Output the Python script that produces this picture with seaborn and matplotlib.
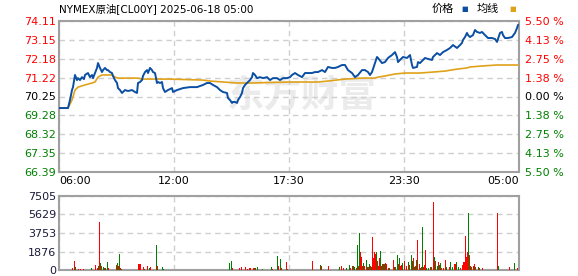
import matplotlib
matplotlib.use("Agg")
import matplotlib.pyplot as plt
import seaborn as sns
import pandas as pd

# ---------------- data ----------------
title = "NYMEX原油[CL00Y] 2025-06-18 05:00"
time_labels = ["06:00", "12:00", "17:30", "23:30", "05:00"]
time_slots = [0, 115, 230, 345, 460]

price_ticks = [66.39, 67.35, 68.32, 69.28, 70.25, 71.22, 72.18, 73.15, 74.11]
price_labels = ["66.39", "67.35", "68.32", "69.28", "70.25", "71.22", "72.18", "73.15", "74.11"]
pct_labels = ["5.50 %", "4.13 %", "2.75 %", "1.38 %", "0.00 %", "1.38 %", "2.75 %", "4.13 %", "5.50 %"]
vol_ticks = [0, 1876, 3753, 5629, 7505]

price_slot = [0, 4, 9, 11, 13, 14, 16, 18, 19, 21, 23, 25, 26, 29, 31, 33, 34, 36, 38, 39,
              41, 43, 44, 46, 48, 49, 51, 53, 54, 56, 58, 59, 61, 63, 64, 66, 69, 73, 76, 78,
              79, 81, 83, 84, 86, 88, 89, 91, 93, 94, 96, 98, 99, 101, 103, 104, 106, 109, 113, 114,
              118, 124, 131, 138, 144, 148, 151, 154, 158, 161, 164, 168, 169, 171, 173, 174, 176, 178, 179, 181,
              183, 184, 186, 188, 191, 193, 194, 196, 198, 201, 204, 208, 211, 214, 218, 221, 224, 228, 231, 233,
              236, 239, 243, 246, 249, 253, 256, 259, 263, 266, 269, 273, 276, 279, 283, 286, 289, 293, 296, 299,
              303, 306, 309, 311, 313, 316, 318, 319, 323, 326, 329, 333, 336, 338, 339, 341, 343, 344, 348, 351,
              353, 354, 358, 359, 361, 364, 366, 369, 373, 374, 378, 381, 384, 388, 391, 394, 398, 401, 403, 404,
              406, 408, 409, 411, 414, 416, 418, 421, 423, 426, 429, 433, 436, 438, 441, 443, 444, 446, 449, 453,
              456, 458, 459]
price = [69.66, 69.66, 69.66, 70.07, 70.58, 70.73, 71.35, 71.09, 71.19, 71.09, 71.24, 71.14, 71.35, 71.45, 71.24, 71.35, 71.19, 71.45, 71.71, 71.96,
         71.71, 71.50, 71.60, 71.71, 71.60, 71.60, 71.50, 71.45, 71.30, 71.09, 70.94, 70.68, 70.58, 70.43, 70.48, 70.58, 70.53, 70.58, 70.48, 70.43,
         70.94, 70.99, 71.09, 71.30, 71.50, 71.60, 71.45, 71.71, 71.60, 71.50, 71.45, 70.94, 70.99, 70.94, 70.99, 70.68, 70.48, 70.58, 70.68, 70.48,
         70.58, 70.68, 70.73, 70.73, 70.84, 70.94, 70.94, 70.84, 70.73, 70.58, 70.48, 70.43, 70.17, 70.07, 69.92, 69.97, 69.97, 69.92, 70.07, 70.22,
         70.43, 70.68, 70.84, 70.94, 71.09, 71.24, 71.45, 71.35, 71.19, 71.24, 71.19, 71.24, 71.09, 71.19, 71.19, 71.09, 71.19, 71.19, 71.24, 71.35,
         71.45, 71.35, 71.24, 71.45, 71.45, 71.45, 71.50, 71.50, 71.60, 71.50, 71.76, 71.71, 71.71, 71.76, 71.86, 71.86, 71.60, 71.45, 71.24, 71.35,
         71.60, 71.60, 71.50, 71.35, 71.50, 71.96, 72.27, 72.22, 71.96, 72.01, 72.22, 72.37, 72.52, 72.27, 72.01, 72.12, 72.22, 72.27, 72.22, 72.37,
         71.86, 71.71, 71.76, 72.01, 71.96, 72.12, 72.22, 72.17, 72.12, 72.27, 72.47, 72.37, 72.52, 72.63, 72.73, 72.88, 72.73, 72.88, 72.99, 73.14,
         73.29, 73.50, 73.39, 73.29, 73.39, 73.65, 73.55, 73.50, 73.55, 73.39, 73.24, 73.24, 73.19, 73.04, 73.50, 73.55, 73.39, 73.24, 73.24, 73.29,
         73.50, 73.75, 73.91]

avg_slot = [0, 9, 13, 16, 19, 26, 33, 36, 39, 43, 53, 56, 59, 79, 83, 111, 144, 151, 178, 191,
            231, 259, 269, 286, 303, 316, 319, 326, 336, 346, 361, 374, 386, 398, 408, 411, 423, 438, 460]
avg_price = [69.66, 69.66, 70.07, 70.58, 70.73, 70.84, 70.94, 70.99, 71.24, 71.35, 71.35, 71.24, 71.19, 71.19, 71.14, 71.14, 71.09, 71.04, 70.94, 70.94,
             70.99, 70.99, 71.04, 71.14, 71.19, 71.19, 71.24, 71.30, 71.40, 71.45, 71.45, 71.50, 71.55, 71.65, 71.71, 71.76, 71.81, 71.86, 71.86]

vol_slot = [13, 15, 16, 19, 21, 24, 32, 36, 38, 39, 40, 41, 42, 44, 45, 46, 48, 49, 57, 58,
            59, 60, 61, 62, 79, 80, 81, 84, 85, 88, 90, 91, 97, 98, 103, 104, 170, 172, 173, 180,
            182, 186, 188, 190, 191, 194, 195, 196, 198, 203, 212, 213, 218, 219, 221, 222, 227, 228,
            253, 261, 262, 269, 280, 282, 284, 287, 290, 291, 293, 294, 295, 297, 298, 299, 300, 301, 302, 303,
            304, 305, 307, 308, 309, 310, 311, 312, 313, 314, 315, 316, 317, 318, 319, 320, 321, 322, 323, 324,
            325, 326, 327, 329, 330, 334, 335, 336, 338, 339, 340, 341, 342, 343,
            345, 347, 349, 350, 352, 353, 354, 355, 356, 357, 358, 360, 361, 362, 363, 364, 365, 366, 367, 369,
            371, 372, 374, 375, 376, 378, 379, 380, 381, 382, 384, 386, 387, 390, 391, 393, 395, 396, 397, 399,
            401, 403, 404, 405, 406, 407, 408, 409, 410, 411, 412, 414, 415, 416, 419, 420, 423, 438, 439, 450,
            455, 458]
vol_value = [240, 910, 300, 135, 135, 135, 240, 500, 240, 400, 4900, 740, 400, 330, 240, 240, 810, 240, 500, 740,
             400, 1650, 240, 135, 600, 600, 600, 300, 135, 400, 240, 300, 2530, 400, 300, 135, 740, 910, 240, 240,
             300, 300, 135, 240, 240, 240, 170, 240, 300, 135, 300, 135, 1420, 400, 1150, 240, 810, 135,
             950, 540, 440, 440, 270, 440, 170, 170, 540, 170, 440, 370, 270, 170, 2570, 370, 3720, 1790, 1290, 440,
             680, 440, 1050, 270, 270, 600, 440, 340, 3310, 1180, 1860, 1620, 1860, 950, 440, 1180, 1960, 440, 600, 600,
             600, 680, 600, 170, 170, 1050, 270, 340, 1560, 600, 1180, 440, 500, 680,
             950, 370, 770, 500, 1520, 950, 1180, 270, 440, 1010, 3080, 600, 170, 340, 4400, 270, 500, 2060, 170, 170,
             340, 270, 6860, 1290, 950, 440, 770, 500, 680, 170, 170, 1050, 340, 340, 850, 340, 600, 600, 850, 340,
             170, 540, 770, 770, 3480, 1350, 1860, 5780, 1520, 440, 270, 370, 600, 270, 340, 170, 170, 5780, 440, 270,
             680, 170]
vol_dir = ["r", "r", "g", "r", "r", "r", "g", "r", "r", "g", "r", "g", "r", "g", "r", "g", "g", "r", "r", "g",
           "r", "g", "r", "g", "r", "r", "r", "r", "g", "r", "g", "r", "g", "r", "g", "g", "g", "g", "r", "r",
           "r", "r", "r", "r", "r", "r", "g", "r", "g", "g", "g", "r", "g", "r", "g", "r", "r", "g",
           "r", "g", "r", "r", "g", "r", "r", "g", "g", "r", "g", "r", "g", "r", "g", "r", "g", "r", "r", "r",
           "g", "r", "g", "r", "r", "g", "r", "g", "r", "r", "r", "r", "g", "r", "r", "r", "g", "r", "g", "r",
           "g", "r", "r", "g", "r", "r", "g", "r", "g", "r", "g", "r", "r", "g",
           "r", "r", "g", "r", "g", "g", "r", "g", "r", "g", "r", "r", "r", "g", "g", "r", "r", "r", "g", "g",
           "r", "g", "r", "g", "r", "g", "r", "g", "g", "r", "r", "r", "g", "r", "g", "g", "r", "r", "g", "g",
           "r", "r", "r", "r", "r", "r", "r", "g", "r", "r", "g", "r", "r", "g", "g", "r", "r", "r", "g", "r",
           "g", "r"]

# thin baseline of small-volume minutes: segment starts, ends, direction
floor_start = [0, 12, 30, 40, 60, 75, 105, 118, 150, 165, 180, 200, 232, 255, 290, 330, 372, 425, 445]
floor_end = [12, 30, 40, 60, 75, 105, 118, 150, 165, 180, 200, 232, 255, 290, 330, 372, 425, 445, 460]
floor_dir = ["r", "g", "r", "g", "r", "r", "g", "r", "g", "r", "r", "g", "g", "r", "r", "r", "r", "g", "r"]
floor_vol = 130

# ---------------- style ----------------
BLUE = "#0b4fa3"
ORANGE = "#e0a21a"
RED = "#ff0000"
GREEN = "#008000"
GRID = "#cfcfcf"
SPINE = "#a0a0a0"
dir_color = {"r": RED, "g": GREEN}

sns.set_theme(style="white")
plt.rcParams["font.family"] = ["DejaVu Sans", "Noto Sans CJK SC"]

W, H = 578, 276
fig = plt.figure(figsize=(W / 100, H / 100), dpi=100)
ax = fig.add_axes([59 / W, 1 - 172 / H, 460 / W, 151 / H])
axv = fig.add_axes([59 / W, 1 - 270 / H, 460 / W, 74 / H])

# watermark
ax.text(168, 70.30, "东方财富", fontsize=27, fontweight="bold", color="#ebebeb",
        family=["Noto Sans CJK SC"], ha="left", va="center", zorder=0)

df_p = pd.DataFrame({"slot": price_slot, "price": price})
df_a = pd.DataFrame({"slot": avg_slot, "avg": avg_price})
sns.lineplot(data=df_a, x="slot", y="avg", ax=ax, color=ORANGE, lw=1.2, estimator=None, zorder=3)
sns.lineplot(data=df_p, x="slot", y="price", ax=ax, color=BLUE, lw=1.4, estimator=None, zorder=4)

ax.set_xlim(0, 460)
ax.set_ylim(price_ticks[0], price_ticks[-1])
ax.set_xlabel("")
ax.set_ylabel("")

for a in (ax, axv):
    a.set_facecolor("white")
    for s in a.spines.values():
        s.set_color(SPINE)
        s.set_linewidth(1.5)
    a.grid(True, color=GRID, linestyle=(0, (4, 3)), linewidth=1)
    a.set_axisbelow(True)

ax.set_yticks(price_ticks)
ax.set_yticklabels(price_labels)
ax.set_xticks(time_slots)
ax.set_xticklabels(time_labels)
ax.tick_params(axis="both", length=0, labelsize=8, colors="black")
ax.tick_params(axis="y", pad=2)
ax.tick_params(axis="x", pad=3)
xt = ax.get_xticklabels()
xt[0].set_ha("left")
xt[-1].set_ha("right")
n = len(price_ticks)
for i, lab in enumerate(ax.get_yticklabels()):
    lab.set_color(GREEN if i < n // 2 else ("black" if i == n // 2 else RED))

axr = ax.twinx()
axr.set_ylim(ax.get_ylim())
axr.set_yticks(price_ticks)
axr.set_yticklabels(pct_labels[::-1])
axr.tick_params(axis="y", length=0, labelsize=8, pad=4)
for s in axr.spines.values():
    s.set_visible(False)
axr.grid(False)
for i, lab in enumerate(axr.get_yticklabels()):
    lab.set_color(GREEN if i < n // 2 else ("black" if i == n // 2 else RED))

# volume
axv.bar(floor_start, [floor_vol] * len(floor_start),
        width=[e - s for s, e in zip(floor_start, floor_end)], align="edge",
        color=[dir_color[d] for d in floor_dir], linewidth=0, zorder=2)
axv.bar(vol_slot, vol_value, width=1.0, color=[dir_color[d] for d in vol_dir],
        linewidth=0, zorder=3)
axv.set_xlim(0, 460)
axv.set_ylim(0, vol_ticks[-1])
axv.set_xticks(time_slots)
axv.set_xticklabels([])
axv.set_yticks(vol_ticks)
axv.set_yticklabels([str(v) for v in vol_ticks])
axv.tick_params(axis="both", length=0, labelsize=8, colors="#1a1a3a", pad=2)

# title and legend
fig.text(59 / W, 1 - 9 / H, title, fontsize=7.5, ha="left", va="center", color="black")
fig.text(432 / W, 1 - 9 / H, "价格", fontsize=8, ha="left", va="center", color="black")
fig.text(461 / W, 1 - 9 / H, "■", fontsize=5, ha="left", va="center", color=BLUE)
fig.text(477 / W, 1 - 9 / H, "均线", fontsize=8, ha="left", va="center", color="black")
fig.text(509 / W, 1 - 9 / H, "■", fontsize=5, ha="left", va="center", color=ORANGE)

fig.savefig("out.png", dpi=100)
